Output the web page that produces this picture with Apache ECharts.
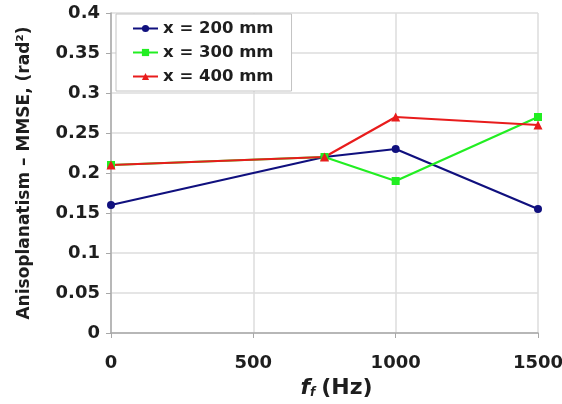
<!DOCTYPE html>
<html>
<head>
<meta charset="utf-8">
<script src="https://cdn.jsdelivr.net/npm/echarts@6/dist/echarts.min.js"></script>
<style>
  html, body { margin: 0; padding: 0; background: #fff; }
  #chart { width: 562px; height: 404px; }
</style>
</head>
<body>
<div id="chart"></div>
<script>
// frequency points (Hz)
const freqs = [0, 750, 1000, 1500]
const x200 = [0.16, 0.22, 0.23, 0.155]
const x300 = [0.21, 0.22, 0.19, 0.27]
const x400 = [0.21, 0.22, 0.27, 0.26]
const seriesNames = ['x = 200 mm', 'x = 300 mm', 'x = 400 mm']

const pairs = (vals) => freqs.map((f, i) => [f, vals[i]])

const chart = echarts.init(document.getElementById('chart'))
const FONT = 'DejaVu Sans, Arial, sans-serif'
const labelFont = { fontFamily: FONT, fontWeight: 'bold', color: '#1e1e1e' }

const option = {
  animation: false,
  backgroundColor: '#fff',
  grid: { left: 111, right: 24, top: 13, bottom: 71, containLabel: false, outerBoundsMode: 'none' },
  legend: {
    left: 116, top: 14,
    orient: 'vertical',
    backgroundColor: '#fff',
    borderColor: '#c4c4c4',
    borderWidth: 1,
    padding: [6, 18, 6, 16],
    itemGap: 7,
    itemWidth: 25,
    itemHeight: 9,
    textStyle: Object.assign({ fontSize: 16.5 }, labelFont),
    data: seriesNames
  },
  xAxis: {
    type: 'value',
    min: 0, max: 1500, interval: 500,
    name: '{i|f}{s|f}{n|(Hz)}',
    nameLocation: 'middle',
    nameGap: 38,
    nameTextStyle: {
      padding: [0, 0, 0, 24],
      rich: {
        i: { fontFamily: FONT, fontStyle: 'italic', fontWeight: 'bold', fontSize: 22, color: '#1e1e1e' },
        s: { fontFamily: FONT, fontStyle: 'italic', fontWeight: 'bold', fontSize: 12, color: '#1e1e1e', verticalAlign: 'bottom', padding: [10, 6, 0, 0] },
        n: { fontFamily: FONT, fontWeight: 'bold', fontSize: 22, color: '#1e1e1e' }
      }
    },
    axisLine: { lineStyle: { color: '#a8a8a8', width: 1.5 } },
    axisTick: { show: true, length: 5, lineStyle: { color: '#a8a8a8' } },
    axisLabel: Object.assign({ fontSize: 18, margin: 21, formatter: (v) => String(v) }, labelFont),
    splitLine: { show: true, lineStyle: { color: '#dcdcdc', width: 1.5 } }
  },
  yAxis: {
    type: 'value',
    min: 0, max: 0.4, interval: 0.05,
    name: 'Anisoplanatism – MMSE, (rad²)',
    nameLocation: 'middle',
    nameGap: 78,
    nameTextStyle: Object.assign({ fontSize: 17 }, labelFont),
    axisLine: { show: true, lineStyle: { color: '#a8a8a8', width: 1.5 } },
    axisTick: { show: true, length: 5, lineStyle: { color: '#a8a8a8' } },
    axisLabel: Object.assign({ fontSize: 18, margin: 11, formatter: (v) => String(+v.toFixed(2)) }, labelFont),
    splitLine: { show: true, lineStyle: { color: '#dcdcdc', width: 1.5 } }
  },
  series: [
    {
      name: seriesNames[0], type: 'line', data: pairs(x200),
      symbol: 'circle', symbolSize: 8,
      itemStyle: { color: '#10107e' }, lineStyle: { width: 2.2, color: '#10107e' }
    },
    {
      name: seriesNames[1], type: 'line', data: pairs(x300),
      symbol: 'rect', symbolSize: 8,
      itemStyle: { color: '#22ee22' }, lineStyle: { width: 2.2, color: '#22ee22' }
    },
    {
      name: seriesNames[2], type: 'line', data: pairs(x400),
      symbol: 'triangle', symbolSize: 9,
      itemStyle: { color: '#e81c1c' }, lineStyle: { width: 2.2, color: '#e81c1c' }
    }
  ]
}
chart.setOption(option)
</script>
</body>
</html>
